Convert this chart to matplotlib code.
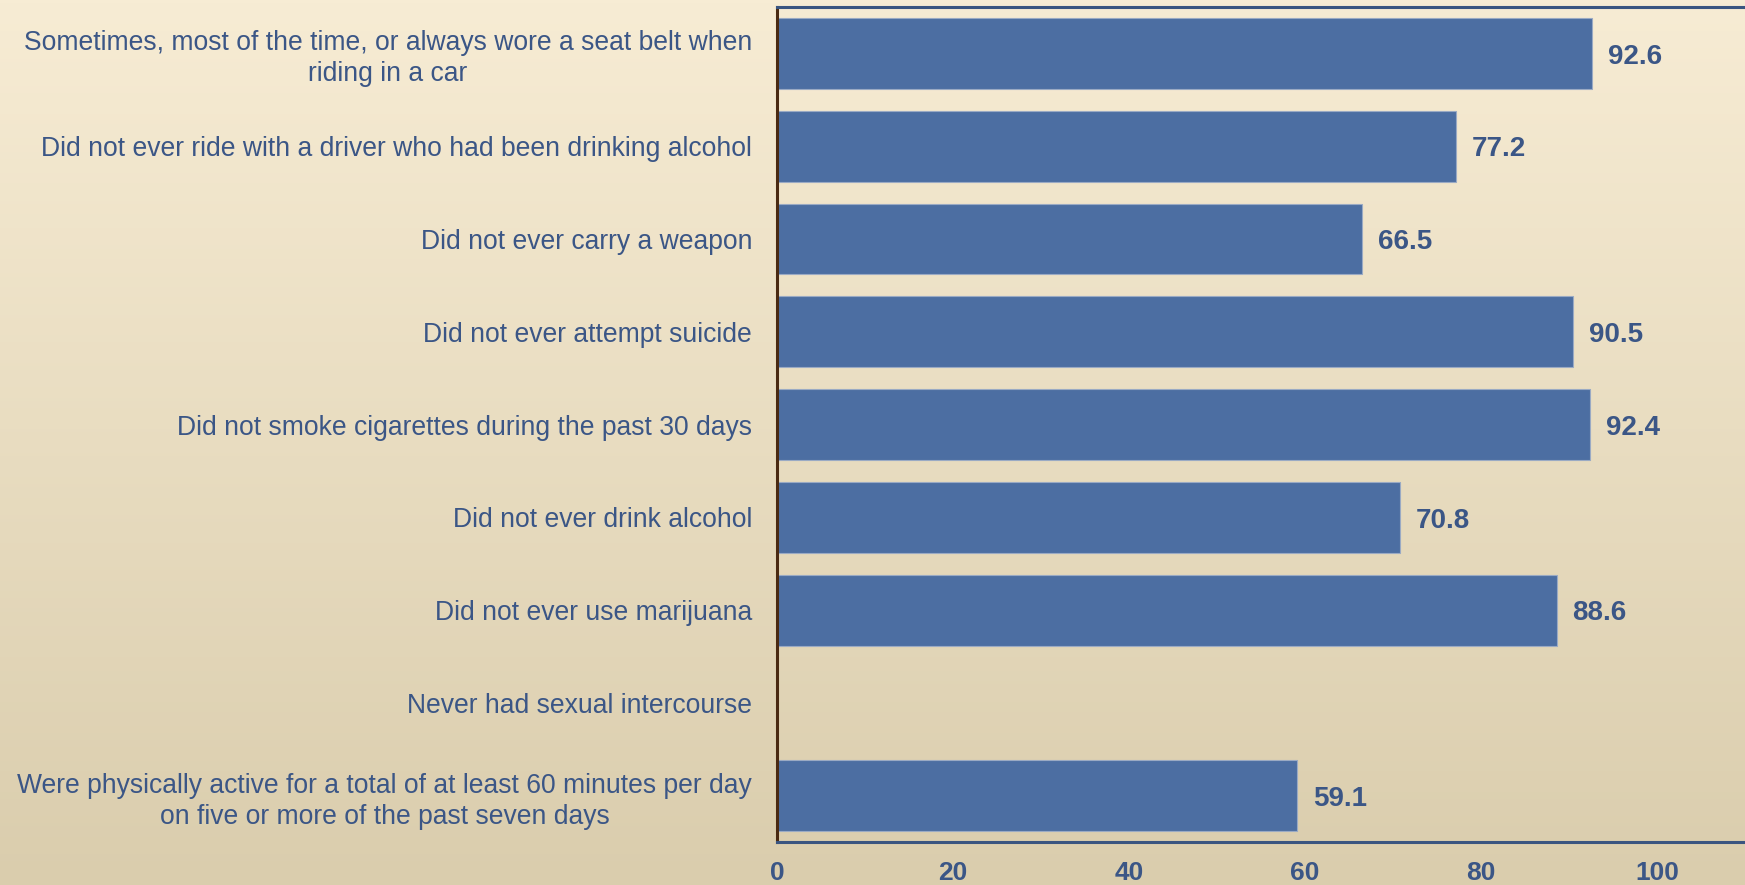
import matplotlib
matplotlib.use("Agg")
import matplotlib.pyplot as plt
import numpy as np

# ── Data ─────────────────────────────────────────────────────────────────────
categories = [
    "Sometimes, most of the time, or always wore a seat belt when\nriding in a car",
    "Did not ever ride with a driver who had been drinking alcohol",
    "Did not ever carry a weapon",
    "Did not ever attempt suicide",
    "Did not smoke cigarettes during the past 30 days",
    "Did not ever drink alcohol",
    "Did not ever use marijuana",
    "Never had sexual intercourse",
    "Were physically active for a total of at least 60 minutes per day\non five or more of the past seven days",
]
values = [92.6, 77.2, 66.5, 90.5, 92.4, 70.8, 88.6, np.nan, 59.1]
x_ticks = [0, 20, 40, 60, 80, 100]

TEXT = "#3B5686"
BAR = "#4C6EA2"
TOP_BG = "#F7ECD4"
BOT_BG = "#DACDAD"

plt.rcParams["font.family"] = ["Liberation Sans", "DejaVu Sans"]

fig = plt.figure(figsize=(17.45, 8.85), dpi=100)

# background gradient
bg = fig.add_axes([0, 0, 1, 1], zorder=-10)
c0 = np.array(matplotlib.colors.to_rgb(TOP_BG))
c1 = np.array(matplotlib.colors.to_rgb(BOT_BG))
t = np.linspace(0, 1, 256)[:, None]
grad = (c0 * (1 - t) + c1 * t)[:, None, :]
bg.imshow(grad, aspect="auto", extent=[0, 1, 0, 1])
bg.axis("off")

ax = fig.add_axes([0.4453, 0.0486, 0.5547, 0.9434])
ax.patch.set_alpha(0)

y = np.arange(len(categories))
ax.barh(y, values, height=0.765, color=BAR, edgecolor="#9AAAC4", linewidth=0.8)

# value labels, sitting a touch below bar centre like the original
for yi, v in zip(y, values):
    if np.isnan(v):
        continue
    ax.text(v + 1.8, yi + 0.035, f"{v:.1f}", va="center", ha="left",
            fontsize=20, fontweight="bold", color=TEXT)

ax.set_ylim(len(categories) - 0.5, -0.5)
ax.set_xlim(0, 110)
ax.set_yticks(y)
ax.set_yticklabels(categories, fontsize=19.1, color=TEXT,
                   multialignment="center", linespacing=1.25)
ax.set_xticks(x_ticks)
ax.set_xticklabels([str(v) for v in x_ticks], fontsize=19, fontweight="bold", color=TEXT)
ax.tick_params(axis="both", length=0)
ax.tick_params(axis="y", pad=18)
ax.tick_params(axis="x", pad=14)

ax.spines["right"].set_visible(False)
ax.spines["top"].set_color("#3A5580")
ax.spines["top"].set_linewidth(2.2)
ax.spines["bottom"].set_color("#3A5580")
ax.spines["bottom"].set_linewidth(2.2)
ax.spines["left"].set_color("#4A2A12")
ax.spines["left"].set_linewidth(2.2)

fig.savefig("out.png", dpi=100)
